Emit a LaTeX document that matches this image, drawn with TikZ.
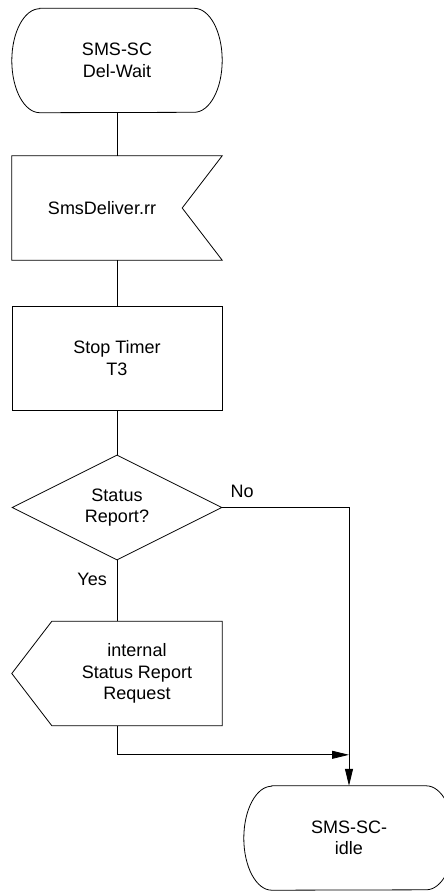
\documentclass[tikz,border=0pt]{standalone}
\usepackage{fontspec}
\setmainfont{Liberation Sans}
\usetikzlibrary{arrows.meta, shapes.geometric}

\tikzset{
	txt/.style={font=\fontsize{18}{21.5}\selectfont, align=center, inner sep=0pt},
	block/.style={txt, minimum width=210pt, minimum height=104pt},
	line/.style={line width=0.8pt},
	tip/.style={-{Triangle[length=17pt, width=8pt]}},
}

\begin{document}
\begin{tikzpicture}[x=1pt, y=1pt]
	\useasboundingbox (0,0) rectangle (444,-892);
	\node[block] (wait) at (117,-60.5) {SMS-SC\\Del-Wait};
	\node[block, minimum width=180pt] (deliver) at (102,-208) {SmsDeliver.rr};
	\node[block, draw, line] (stop) at (117,-358) {Stop Timer\\T3};
	\node[txt, diamond, draw, line, minimum width=210pt, minimum height=105pt, aspect=2] (ask) at (117,-507.5) {Status\\Report?};
	\node[block, minimum width=170pt] (req) at (137,-673.5) {internal\\Status Report\\Request};
	\node[block] (idle) at (349,-838) {SMS-SC-\\idle};
	\node[txt, anchor=base west] (no) at ([xshift=8pt, yshift=10.5pt]ask.east) {No};
	\node[txt, anchor=base east] (yes) at ([xshift=-10pt, yshift=-25pt]ask.south) {Yes};
	\coordinate (join) at ([yshift=31pt]idle.north);

	\foreach \s in {wait, idle}{
		\draw[line] ([xshift=28pt]\s.north west) -- ([xshift=-28pt]\s.north east)
			arc[start angle=90, end angle=-90, x radius=28pt, y radius=52pt]
			-- ([xshift=28pt]\s.south west)
			arc[start angle=270, end angle=90, x radius=28pt, y radius=52pt] -- cycle;
	}
	\draw[line] (deliver.north west) -- ([xshift=30pt]deliver.north east) -- ([xshift=-10pt]deliver.east)
		-- ([xshift=30pt]deliver.south east) -- (deliver.south west) -- cycle;
	\draw[line] (req.north west) -- (req.north east) -- (req.south east) -- (req.south west)
		-- ([xshift=-40pt]req.west) -- cycle;

	\foreach \a/\b in {wait/deliver, deliver/stop, stop/ask}
		\draw[line] (\a.south -| wait) -- (\b.north -| wait);
	\draw[line] (ask.south) -- (ask.south |- req.north);
	\draw[line, tip] (ask.south |- req.south) |- (join);
	\draw[line, tip] (ask.east) -| (idle.north);
\end{tikzpicture}
\end{document}
